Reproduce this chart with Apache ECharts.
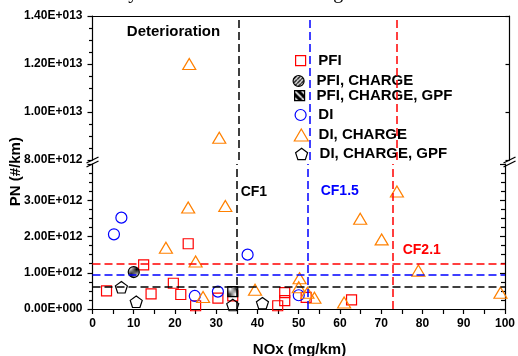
<!DOCTYPE html>
<html>
<head>
<meta charset="utf-8">
<script src="https://cdn.jsdelivr.net/npm/echarts@6/dist/echarts.min.js"></script>
<style>
  html, body { margin: 0; padding: 0; background: #fff; }
  #main { width: 518px; height: 356px; }
</style>
</head>
<body>
<div id="main"></div>
<script>
// NOx in mg/km, PN in 10^12 #/km
const pfiNox = [3.4, 12.4, 14.2, 19.6, 21.4, 23.2, 25.0, 30.4, 34.0, 44.9, 46.6, 46.6, 51.8, 62.8];
const pfiPn  = [0.50, 1.22, 0.42, 0.71, 0.40, 1.80, 0.09, 0.30, 0.36, 0.09, 0.45, 0.23, 0.32, 0.25];
const pfiChgNox = [10.0];
const pfiChgPn  = [1.02];
const pfiGpfNox = [34.0];
const pfiGpfPn  = [0.48];
const diNox = [5.2, 7.0, 24.8, 30.4, 37.6, 50.0];
const diPn  = [2.06, 2.52, 0.36, 0.48, 1.50, 0.38];
const diChgNox = [17.8, 23.2, 25.0, 26.8, 32.2, 39.4, 50.2, 50.0, 52.1, 53.8, 61.0, 64.9, 70.1, 73.8, 79.0, 98.9, 23.2, 30.4];
const diChgPn  = [1.69, 2.80, 1.31, 0.33, 2.84, 0.53, 0.85, 0.60, 0.45, 0.31, 0.18, 2.49, 1.92, 3.24, 1.06, 0.45, 12.0, 8.93];
const diGpfNox = [7.0, 10.6, 34.0, 41.2];
const diGpfPn  = [0.60, 0.20, 0.11, 0.16];

// conformity factor limits (vertical NOx, horizontal PN)
const cfNames  = ['CF1', 'CF1.5', 'CF2.1'];
const cfNox    = [35, 52.2, 72.9];
const cfPn     = [0.62, 0.935, 1.25];
const cfColors = ['#000000', '#0000ff', '#ff0000'];

// broken y axis: lower part 0-4, upper part 8-14 (10^12 #/km)
const lowMax = 4, highMin = 8, highMax = 14;

const FONT = 'Liberation Sans, Arial, sans-serif';

function sci(v) {
  if (v === 0) return '0.00E+000';
  const e = Math.floor(Math.log10(v) + 1e-9);
  const m = v / Math.pow(10, e);
  return m.toFixed(2) + 'E+' + String(e).padStart(3, '0');
}

function hatch(bg, fg, size, lw, back) {
  const c = document.createElement('canvas');
  c.width = c.height = size;
  const g = c.getContext('2d');
  g.fillStyle = bg;
  g.fillRect(0, 0, size, size);
  g.strokeStyle = fg;
  g.lineWidth = lw;
  g.beginPath();
  for (let k = -1; k <= 1; k++) {
    if (back) { g.moveTo(k * size, 0); g.lineTo(k * size + size, size); }
    else { g.moveTo(k * size, size); g.lineTo(k * size + size, 0); }
  }
  g.stroke();
  return { image: c, repeat: 'repeat' };
}

const pentagon = 'path://M0,-1L0.951,-0.309L0.588,0.809L-0.588,0.809L-0.951,-0.309Z';

function pts(xs, ys, low) {
  const out = [];
  for (let i = 0; i < xs.length; i++) {
    if (low ? ys[i] <= lowMax : ys[i] >= highMin) out.push([xs[i], ys[i]]);
  }
  return out;
}

const groups = [
  { name: 'PFI', x: pfiNox, y: pfiPn, symbol: 'rect', size: 10, fill: 'rgba(0,0,0,0)', stroke: '#ff0000', leg: [300, 60.7, 10, 10, 317.7] },
  { name: 'PFI, CHARGE', x: pfiChgNox, y: pfiChgPn, symbol: 'circle', size: 11, fill: hatch('#ffffff', '#000000', 4, 1.5, false), stroke: '#000000', leg: [298, 81, 11, 11, 316] },
  { name: 'PFI, CHARGE, GPF', x: pfiGpfNox, y: pfiGpfPn, symbol: 'rect', size: 10, fill: hatch('#000000', '#ffffff', 7, 1.6, true), stroke: '#000000', leg: [299, 95.7, 10, 10, 316] },
  { name: 'DI', x: diNox, y: diPn, symbol: 'circle', size: 11, fill: 'rgba(0,0,0,0)', stroke: '#0000ff', leg: [300, 115, 11, 11, 317.7] },
  { name: 'DI, CHARGE', x: diChgNox, y: diChgPn, symbol: 'triangle', size: [13, 11], fill: 'rgba(0,0,0,0)', stroke: '#ff8000', leg: [300.7, 135, 14, 12, 318] },
  { name: 'DI, CHARGE, GPF', x: diGpfNox, y: diGpfPn, symbol: pentagon, size: [12, 11.5], fill: 'rgba(0,0,0,0)', stroke: '#000000', leg: [301, 154, 12, 12, 319] }
];

const series = [];
groups.forEach(function (g) {
  [true, false].forEach(function (low) {
    const data = pts(g.x, g.y, low);
    if (!data.length) return;
    series.push({
      name: g.name,
      type: 'scatter',
      xAxisIndex: low ? 1 : 0,
      yAxisIndex: low ? 2 : 0,
      symbol: g.symbol,
      symbolSize: g.size,
      itemStyle: { color: g.fill, borderColor: g.stroke, borderWidth: 1.2, opacity: 1 },
      data: data
    });
  });
});

// reference lines: verticals in both parts, horizontals in the lower part
function refSeries(low) {
  const lines = cfNox.map(function (v, i) {
    return { xAxis: v, lineStyle: { color: cfColors[i] } };
  });
  if (low) {
    cfPn.forEach(function (v, i) {
      lines.push({ yAxis: v, lineStyle: { color: cfColors[i] } });
    });
  }
  return {
    name: 'ref' + (low ? 'Low' : 'High'),
    type: 'scatter',
    xAxisIndex: low ? 1 : 0,
    yAxisIndex: low ? 2 : 0,
    data: [],
    z: 1,
    markLine: {
      silent: true,
      symbol: ['none', 'none'],
      label: { show: false },
      lineStyle: { type: [8, 4], width: 1.5 },
      data: lines
    }
  };
}
series.unshift(refSeries(true), refSeries(false));

const legends = groups.map(function (g) {
  const cx = g.leg[0], cy = g.leg[1], w = g.leg[2], h = g.leg[3], tx = g.leg[4];
  return {
    data: [g.name],
    left: cx - w / 2,
    top: cy - 8,
    padding: 0,
    itemWidth: w,
    itemHeight: h,
    selectedMode: false,
    itemStyle: { color: g.fill, borderColor: g.stroke, borderWidth: 1.2 },
    textStyle: {
      color: '#000', fontFamily: FONT, fontWeight: 'bold', fontSize: 15,
      lineHeight: 16, padding: [0, 0, 0, tx - (cx + w / 2 + 5)]
    }
  };
});

const axisLine = { show: true, lineStyle: { color: '#000', width: 1.2 } };
const labelStyle = { color: '#000', fontFamily: FONT, fontWeight: 'bold', fontSize: 12 };

const cfLabels = [
  { text: cfNames[0], x: 240.7, y: 191.7, color: cfColors[0] },
  { text: cfNames[1], x: 320.7, y: 190.7, color: cfColors[1] },
  { text: cfNames[2], x: 402.7, y: 250, color: cfColors[2] }
];

function breakMark(x, y) {
  return [
    { type: 'line', shape: { x1: x - 6, y1: y + 1, x2: x + 6, y2: y - 5 }, style: { stroke: '#000', lineWidth: 1.3 } },
    { type: 'line', shape: { x1: x - 6, y1: y + 5, x2: x + 6, y2: y - 1 }, style: { stroke: '#000', lineWidth: 1.3 } }
  ];
}

const graphic = [
  { type: 'text', x: 40, y: 3, style: { text: 'were clearly obtained as shown in Figure 6 .', font: '20px Liberation Serif', fill: '#000', verticalAlign: 'bottom' } },
  { type: 'text', x: 173.5, y: 32, style: { text: 'Deterioration', font: 'bold 15px ' + FONT, fill: '#000', align: 'center', verticalAlign: 'middle' } },
  { type: 'text', x: 299.5, y: 350, style: { text: 'NOx (mg/km)', font: 'bold 15px ' + FONT, fill: '#000', align: 'center', verticalAlign: 'middle' } },
  { type: 'text', x: 16, y: 171.7, rotation: Math.PI / 2, style: { text: 'PN (#/km)', font: 'bold 15px ' + FONT, fill: '#000', align: 'center', verticalAlign: 'middle' } }
].concat(cfLabels.map(function (c) {
  return { type: 'text', x: c.x, y: c.y, style: { text: c.text, font: 'bold 14px ' + FONT, fill: c.color, align: 'left', verticalAlign: 'middle' } };
})).concat(breakMark(92.5, 162), breakMark(509.5, 162));

const option = {
  animation: false,
  backgroundColor: '#fff',
  grid: [
    { left: 92.5, right: 8.5, top: 16, height: 144 },
    { left: 92.5, right: 8.5, top: 164, height: 145 }
  ],
  xAxis: [
    { gridIndex: 0, type: 'value', position: 'top', min: 0, max: 100, interval: 10,
      axisLine: axisLine, axisTick: { show: false }, axisLabel: { show: false }, splitLine: { show: false } },
    { gridIndex: 1, type: 'value', min: 0, max: 100, interval: 10,
      axisLine: axisLine,
      axisTick: { show: true, length: 5, lineStyle: { color: '#000', width: 1.2 } },
      minorTick: { show: true, splitNumber: 2, length: 5, lineStyle: { color: '#000', width: 1.2 } },
      axisLabel: Object.assign({ margin: 9 }, labelStyle),
      splitLine: { show: false } }
  ],
  yAxis: [
    { gridIndex: 0, type: 'value', min: highMin, max: highMax, interval: 2,
      axisLine: axisLine,
      axisTick: { show: true, length: 5, lineStyle: { color: '#000', width: 1.2 } },
      minorTick: { show: true, splitNumber: 4, length: 3.5, lineStyle: { color: '#000', width: 1.2 } },
      axisLabel: Object.assign({ margin: 10, formatter: function (v) { return sci(v * 1e12); } }, labelStyle),
      splitLine: { show: false } },
    { gridIndex: 0, type: 'value', position: 'right', min: highMin, max: highMax, interval: 2,
      axisLine: axisLine,
      axisTick: { show: true, inside: true, length: 4, lineStyle: { color: '#000', width: 1.2 } },
      axisLabel: { show: false }, splitLine: { show: false } },
    { gridIndex: 1, type: 'value', min: 0, max: lowMax, interval: 1,
      axisLine: axisLine,
      axisTick: { show: true, length: 5, lineStyle: { color: '#000', width: 1.2 } },
      minorTick: { show: true, splitNumber: 4, length: 3.5, lineStyle: { color: '#000', width: 1.2 } },
      axisLabel: Object.assign({ margin: 10, formatter: function (v) { return v >= lowMax ? '' : sci(v * 1e12); } }, labelStyle),
      splitLine: { show: false } },
    { gridIndex: 1, type: 'value', position: 'right', min: 0, max: lowMax, interval: 1,
      axisLine: axisLine,
      axisTick: { show: true, inside: true, length: 5, lineStyle: { color: '#000', width: 1.2 } },
      minorTick: { show: true, splitNumber: 4, length: 4, lineStyle: { color: '#000', width: 1.2 } },
      axisLabel: { show: false }, splitLine: { show: false } }
  ],
  legend: legends,
  graphic: graphic,
  series: series
};

const chart = echarts.init(document.getElementById('main'));
chart.setOption(option);
</script>
</body>
</html>
